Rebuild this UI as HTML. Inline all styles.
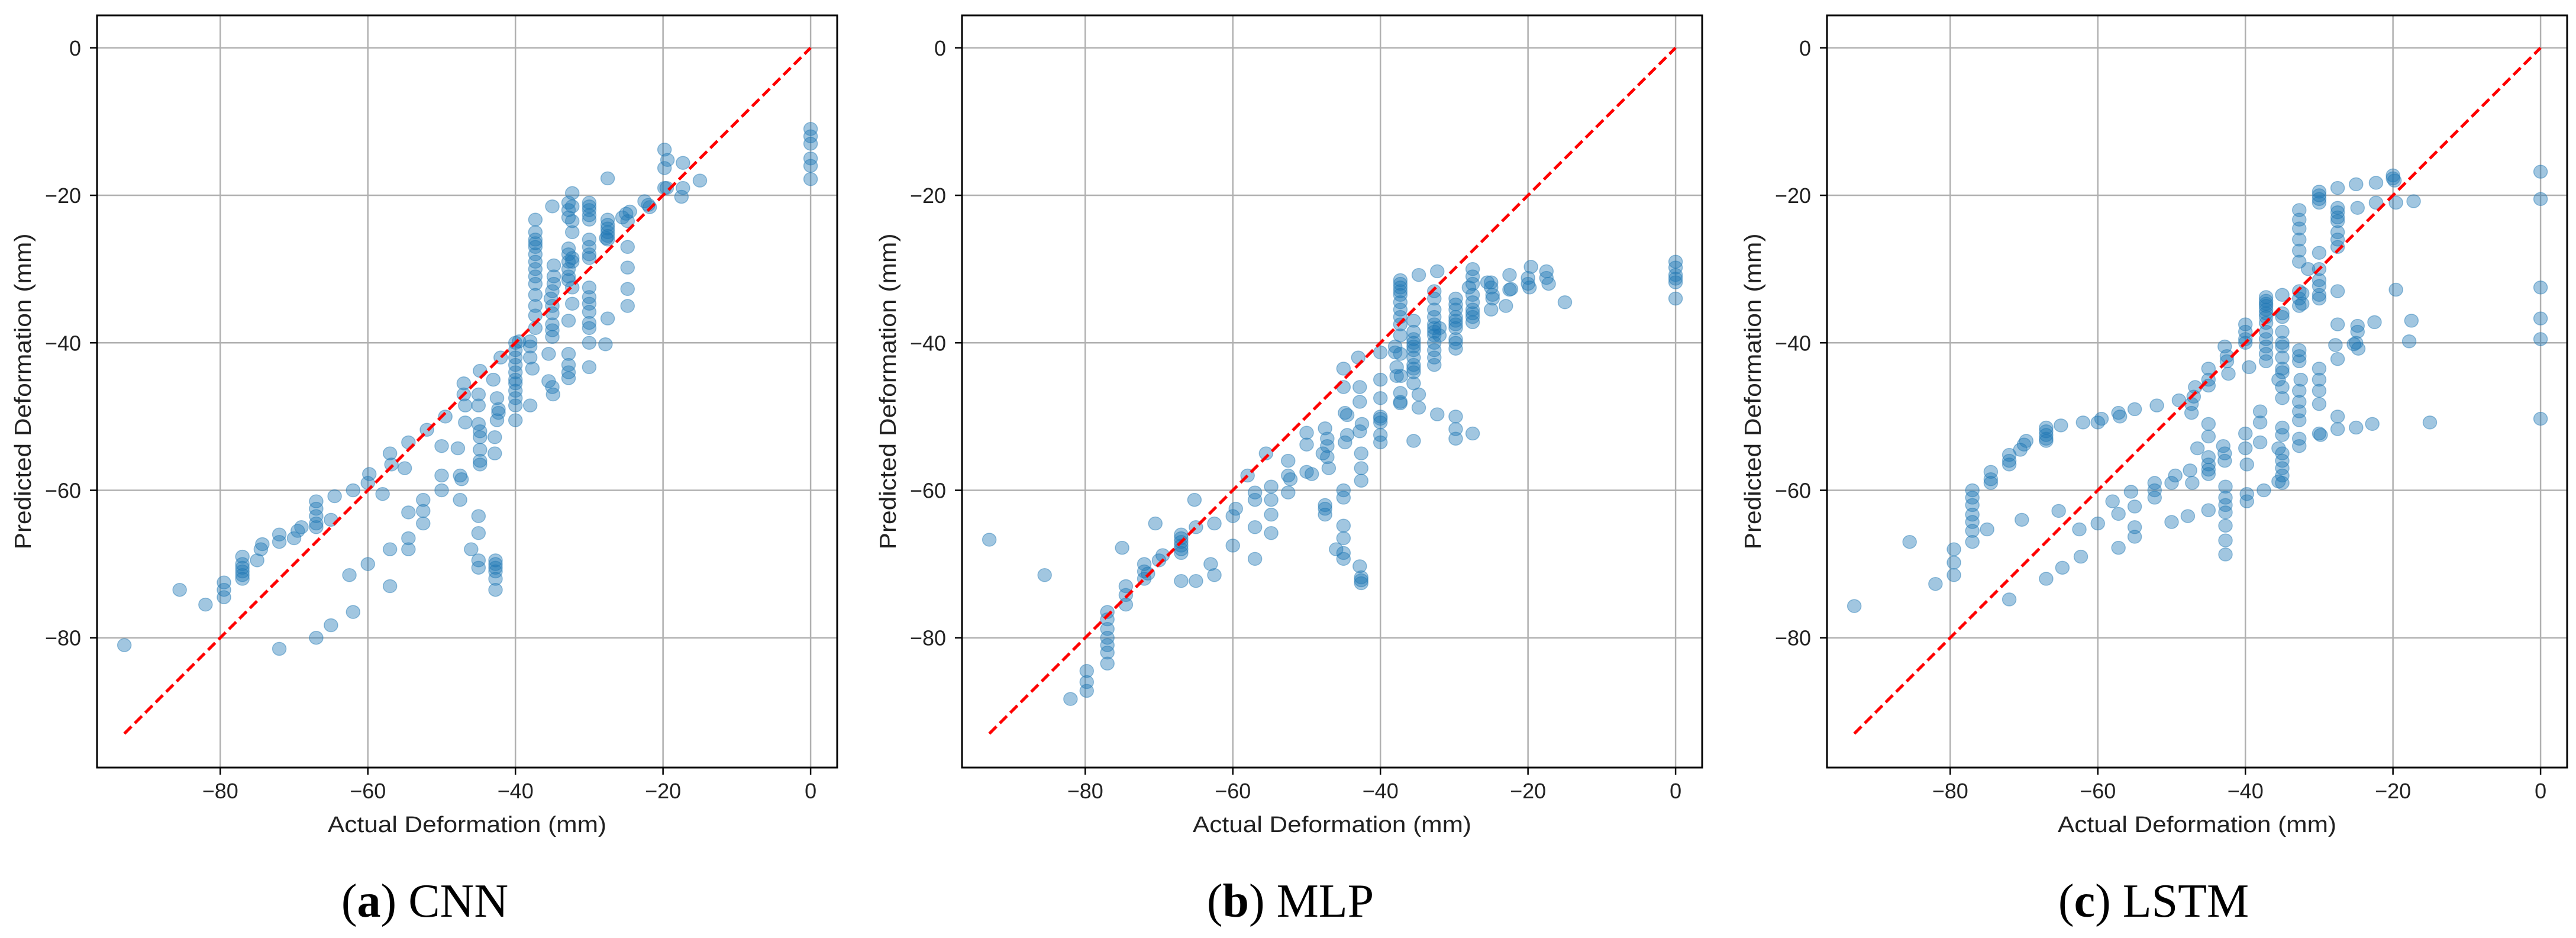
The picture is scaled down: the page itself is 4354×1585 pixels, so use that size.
<!DOCTYPE html>
<html><head><meta charset="utf-8">
<style>
html,body{margin:0;padding:0;background:#fff;}
svg{display:block;}
text{font-family:"Liberation Sans","DejaVu Sans",sans-serif;fill:#222;}
.cap{font-family:"Liberation Serif",serif;fill:#000;}
</style></head>
<body>
<svg id="fig" width="4354" height="1585" viewBox="0 0 4354 1585" xmlns="http://www.w3.org/2000/svg"></svg>
<script>
const xTicks=[-80,-60,-40,-20,0];
const yTicks=[0,-20,-40,-60,-80];
const panelNames=["CNN","MLP","LSTM"];
const panelLetters=["a","b","c"];
const cnnPts=[[-93,-81],[-85.5,-73.5],[-82,-75.5],[-79.5,-72.5],[-79.5,-73.5],[-79.5,-74.5],
[-77,-69],[-77,-70],[-77,-71],[-77,-72],[-77,-71.5],[-77,-70.5],[-75,-69.5],[-74.5,-68],[-74.3,-67.3],
[-72,-66],[-72,-67],[-70,-66.5],[-69.5,-65.5],[-69,-65],[-67,-61.5],[-67,-62.5],[-67,-63.5],[-67,-64.5],[-67,-65],
[-65,-64],[-64.5,-60.8],[-62,-60],[-60,-59],[-59.8,-57.8],[-58,-60.5],[-57,-55],[-56.8,-56.5],[-55,-57],[-54.5,-53.5],[-52,-51.8],[-49.5,-50],
[-50,-54],[-47.8,-54.3],[-50,-58],[-50,-60],[-47.5,-58],[-47.3,-58.5],[-47.5,-61.3],
[-52.5,-61.3],[-52.5,-62.8],[-52.5,-64.5],[-54.5,-63],[-54.5,-66.5],[-54.5,-68],[-57,-68],[-57,-73],[-60,-70],[-62.5,-71.5],[-62,-76.5],[-65,-78.3],[-67,-80],[-72,-81.5],
[-47,-45.5],[-47,-47],[-46.8,-48.5],[-46.8,-50.8],[-44.8,-43.8],[-45,-47],[-45,-48.5],[-45,-51],[-44.8,-52],[-44.8,-52.8],[-44.8,-54.5],[-44.8,-56.5],[-44.8,-56],
[-45,-63.5],[-45,-65.8],[-46,-68],[-45,-69.5],[-45,-70.5],
[-42.7,-69.5],[-42.7,-70],[-42.7,-70.5],[-42.7,-71],[-42.7,-72],[-42.7,-73.5],
[-43,-45],[-42.5,-47.5],[-42.3,-49],[-42.3,-49.5],[-42.5,-50.5],[-42.8,-52.8],[-42.8,-55],[-42,-42],
[-40,-40],[-40,-41],[-40,-42],[-40,-43],[-40,-44],[-40,-45],[-40,-45.5],[-40,-46.5],[-40,-47.5],[-40,-48.5],[-40,-50.5],
[-39.5,-39.8],[-38,-39.8],[-38,-40.5],[-38,-42],[-38,-48.5],[-37.7,-43.5],
[-37.3,-23.3],[-37.3,-25],[-37.3,-26],[-37.3,-26.5],[-37.3,-27],[-37.3,-28],[-37.3,-29],[-37.3,-30],[-37.3,-31],[-37.3,-32],[-37.3,-33.5],[-37.3,-35],[-37.3,-36.3],[-37.3,-38],
[-35,-21.5],[-34.8,-29.5],[-34.8,-31],[-34.8,-32],[-35,-33],[-35.2,-34],[-35,-35],[-35,-36],[-35,-37.5],[-35,-38.3],[-35,-39.2],[-35.5,-41.5],[-35.5,-45.2],[-35,-46],[-34.9,-47],
[-32.8,-21],[-32.8,-22],[-32.8,-23],[-32.8,-27.2],[-32.8,-28],[-32.8,-29],[-32.8,-30],[-32.8,-31],[-32.8,-31.5],[-32.8,-37],[-32.8,-41.5],[-32.8,-43],[-32.8,-44],[-32.8,-44.8],
[-32.3,-19.7],[-32.3,-25],[-32.3,-28.5],[-32.3,-32.5],[-32.3,-34.7],[-32.3,-29],[-32.3,-23.5],[-32.3,-21.5],
[-30,-21],[-30,-21.5],[-30,-22],[-30,-22.7],[-30,-23.3],[-30,-26],[-30,-27],[-30,-28],[-30,-28.5],[-30,-32.5],[-30,-33.8],[-30,-34.7],[-30,-35.8],[-30,-37.3],[-30,-38],[-30,-40],[-30,-43.3],
[-27.5,-17.7],[-27.5,-23.3],[-27.5,-24],[-27.5,-24.5],[-27.5,-25],[-27.5,-25.5],[-27.5,-26],[-27.5,-36.7],[-27.8,-40.2],[-27.7,-25.8],
[-25.5,-23],[-25,-22.5],[-24.5,-22.2],[-24.8,-23.5],[-24.8,-27],[-24.8,-29.8],[-24.8,-32.7],[-24.8,-35],
[-22.5,-20.8],[-22,-21.3],[-21.8,-21.6],[-19.8,-13.8],[-19.8,-16.3],[-19.4,-15.2],[-19.8,-19],[-19.5,-19],[-17.3,-15.6],[-17.3,-19],[-17.5,-20.2],[-15,-18],
[0,-11],[0,-12],[0,-13],[0,-15],[0,-16],[0,-17.8]];
const mlpPts=[[-93,-66.7],[-85.5,-71.5],[-82,-88.3],[-79.8,-84.5],[-79.8,-86],[-79.8,-87.2],
[-77,-76.5],[-77,-77.5],[-77,-78.8],[-77,-80],[-77,-81],[-77,-82],[-77,-83.5],
[-75,-67.8],[-74.5,-73],[-74.5,-74.2],[-74.5,-75.5],[-72,-70],[-72,-71],[-72,-72],[-71.5,-71.3],
[-70.5,-64.5],[-70,-69.5],[-69.5,-68.8],[-67,-66],[-67,-66.5],[-67,-67],[-67,-67.5],[-67,-68],[-67,-68.5],[-67,-72.3],
[-65,-72.3],[-65,-65],[-65.2,-61.3],[-62.5,-64.5],[-62.5,-71.5],[-63,-70],[-60,-67.5],[-60,-63.5],[-59.6,-62.5],
[-58,-58],[-57,-60.3],[-57,-61.3],[-57,-65],[-57,-69.3],[-55.5,-55],[-54.8,-59.5],[-54.8,-61.3],[-54.8,-63.3],[-54.8,-65.8],
[-52.5,-56],[-52.5,-58],[-52.2,-58.5],[-52.5,-60.3],[-50,-52.2],[-50,-53.8],[-50,-57.5],[-49.3,-57.8],
[-47.5,-51.6],[-47.8,-55],[-47.2,-53],[-47.2,-54],[-47.2,-55.5],[-47,-57],[-47.5,-62],[-47.5,-62.5],[-47.5,-63.3],[-46,-68],
[-45,-43.5],[-45,-46],[-44.8,-49.5],[-44.5,-49.8],[-44.5,-52.5],[-44.8,-53.5],[-45,-60],[-45,-61],[-45,-64.8],[-45,-66.5],[-45,-68.5],[-45,-69.3],
[-43,-42],[-42.8,-46],[-42.8,-48],[-42.5,-51],[-42.8,-52],[-42.6,-55],[-42.6,-57],[-42.6,-58.7],[-42.8,-70.3],[-42.6,-71.8],[-42.6,-72.2],[-42.6,-72.6],
[-40,-41.3],[-40,-45],[-40,-47.5],[-40,-50],[-40,-50.3],[-40,-50.8],[-40,-52.5],[-40,-53.5],
[-38,-40.5],[-38,-41.3],[-37.8,-43.3],[-37.8,-44.5],[-37.2,-44.5],
[-37.3,-31.5],[-37.3,-32],[-37.3,-32.5],[-37.3,-33],[-37.3,-33.5],[-37.3,-34.5],[-37.3,-35.5],[-37.3,-36.5],[-37.3,-37.5],[-37.3,-39],[-37.3,-41.5],[-37.3,-46.8],[-37.3,-48],[-37.3,-48.2],
[-34.8,-30.8],[-35.5,-37],[-35.5,-38.5],[-35.5,-39.5],[-35.5,-40],[-35.5,-40.5],[-35.5,-41],[-35.5,-42],[-35.5,-43],[-35.5,-43.5],[-35.5,-44],[-35.5,-45.5],
[-34.8,-47],[-34.8,-48.8],[-35.5,-53.3],
[-32.7,-33],[-32.7,-34],[-32.7,-35.5],[-32.7,-36.5],[-32.7,-37.5],[-32.7,-38],[-32.7,-38.5],[-32.7,-39],[-32.7,-40],[-32.7,-41],[-32.7,-42],[-32.7,-43],
[-32.3,-30.3],[-32,-38],[-32,-39],[-32.3,-49.7],
[-29.8,-34],[-29.8,-34.8],[-29.8,-35.5],[-29.8,-36.5],[-29.8,-37],[-29.8,-37.5],[-29.8,-38],[-29.8,-39.5],[-29.8,-40],[-29.8,-40.8],[-29.8,-50],[-29.8,-51.7],[-29.8,-53],
[-27.5,-30],[-27.5,-31],[-27.5,-32],[-27.5,-33.5],[-27.5,-34.5],[-27.5,-35.5],[-27.5,-36],[-27.5,-36.5],[-27.5,-37.2],[-27.5,-52.3],[-28,-32.5],
[-25,-31.8],[-25,-32.5],[-24.8,-33.5],[-24.8,-34],[-25,-35.5],[-25.5,-31.8],
[-22.5,-30.8],[-22.3,-32.7],[-22.5,-32.8],[-23,-35],
[-20,-31.2],[-20,-32],[-19.8,-32.5],[-19.6,-29.7],
[-17.5,-30.3],[-17.5,-31.2],[-17.2,-32],[-15,-34.5],
[0,-29],[0,-29.8],[0,-30.8],[0,-31.3],[0,-31.8],[0,-34]];
const lstmPts=[[-93,-75.7],[-85.5,-67],[-82,-72.7],[-79.5,-68],[-79.5,-69.8],[-79.5,-71.5],
[-77,-60],[-77,-61],[-77,-62],[-77,-63.3],[-77,-64.3],[-77,-65.5],[-77,-67],
[-75,-65.3],[-74.5,-57.5],[-74.5,-58.5],[-74.5,-59],[-72,-55.2],[-72,-56],[-72,-56.5],[-72,-74.8],
[-70.5,-54.5],[-70,-53.8],[-69.7,-53.3],[-70.3,-64],
[-67,-51.5],[-67,-52],[-67,-52.5],[-67,-53],[-67,-53.3],[-67,-72],
[-65,-51.2],[-65.3,-62.8],[-64.8,-70.5],[-62.5,-65.3],[-62.3,-69],[-62,-50.8],
[-60,-50.8],[-59.5,-50.3],[-60,-64.5],[-58,-61.5],[-57.2,-49.5],[-57,-50],[-57.2,-63.2],[-57.2,-67.8],
[-55,-49],[-55.5,-60.2],[-55,-62.2],[-55,-65],[-55,-66.3],
[-52,-48.5],[-52.3,-59],[-52.3,-60],[-52.3,-61],
[-49.5,-58],[-50,-59],[-50,-64.3],[-49,-47.8],
[-47.8,-63.5],[-47.5,-57.3],[-47.2,-59],[-47.3,-49.5],[-47.3,-48.3],[-47,-47.3],[-46.8,-46],[-46.5,-54.3],
[-45,-43.5],[-45,-45],[-45,-45.8],[-45,-51],[-45,-52.7],[-45,-55.5],[-45,-56.5],[-45,-57.2],[-45,-57.8],[-45,-62.7],
[-42.8,-40.5],[-42.5,-41.8],[-42.5,-42.5],[-42.3,-44.2],[-43,-54],[-42.8,-55],[-42.8,-56],
[-42.7,-59.5],[-42.7,-61],[-42.7,-62],[-42.7,-63],[-42.7,-64.8],[-42.7,-66.8],[-42.7,-68.7],
[-40,-37.5],[-40,-38.5],[-40,-39.5],[-40,-40],[-39.5,-43.3],[-40,-52.3],[-40,-54.3],[-39.8,-56.5],[-39.8,-60.5],[-39.8,-61.5],
[-38,-49.3],[-38,-50.8],[-38,-53.5],[-37.5,-60],
[-37.2,-33.8],[-37.2,-34.3],[-37.2,-34.7],[-37.2,-35],[-37.2,-35.5],[-37.2,-36],[-37.2,-36.5],[-37.2,-37.3],[-37.2,-38.5],[-37.2,-39.5],[-37.2,-40.5],[-37.2,-41.5],[-37.2,-42.5],
[-35,-33.5],[-35,-36],[-35,-36.5],[-35,-38.5],[-35,-40],[-35,-40.5],[-35,-42],[-35,-44],[-35,-46],[-35,-47.5],[-35,-51.5],[-35,-52.5],[-35,-55],[-35,-56],[-35,-57],[-35,-58],[-35,-59],[-35,-43.5],
[-35.5,-54.3],[-35.5,-58.8],[-35.5,-45],
[-32.7,-22],[-32.7,-23.3],[-32.7,-24.5],[-32.7,-26],[-32.7,-27.5],[-32.7,-29],[-32.7,-33],[-32.7,-34],[-32.7,-35],[-32.7,-41],[-32.7,-41.8],[-32.7,-42.5],[-32.7,-46.5],[-32.7,-48],[-32.7,-49.3],[-32.7,-50.5],[-32.7,-53],[-32.7,-54],
[-32.3,-33.3],[-32.3,-34.7],[-32.5,-45],[-31.5,-30],
[-30,-19.5],[-30,-20],[-30,-20.5],[-30,-21],[-30,-27.8],[-30,-30],[-30,-31.5],[-30,-32.3],[-30,-33.5],[-30,-34],[-30,-43.5],[-30,-45],[-30,-46.5],[-30,-48.3],[-30,-52.3],[-29.8,-52.5],
[-27.5,-19],[-27.5,-21.7],[-27.5,-22.3],[-27.5,-23],[-27.5,-23.5],[-27.5,-25],[-27.5,-26],[-27.5,-27],[-27.5,-33],[-27.5,-37.5],[-27.5,-42.2],[-27.5,-50],[-27.5,-51.7],[-27.8,-40.3],
[-25,-18.5],[-24.8,-21.7],[-24.8,-37.7],[-24.8,-38.5],[-25,-40],[-24.7,-40.8],[-25.3,-40.2],[-25,-51.5],
[-22.3,-18.3],[-22.3,-21],[-22.5,-37.2],[-22.8,-51],
[-20,-17.3],[-20,-17.7],[-19.8,-18],[-19.6,-21],[-19.6,-32.8],
[-17.5,-37],[-17.8,-39.8],[-17.2,-20.8],[-15,-50.8],
[0,-16.8],[0,-20.5],[0,-32.5],[0,-36.7],[0,-39.5],[0,-50.3]];
const allPts=[cnnPts,mlpPts,lstmPts];

const NS="http://www.w3.org/2000/svg";
const fig=document.getElementById('fig');
const axLeft=[164,1626,3088], axW=1251, axTop=26, axBot=1297;
const capX=[718,2181,3640];
const X0=-96.7,X1=3.6,Y0=-97.6,Y1=4.4;
function mk(tag,attrs,parent){const e=document.createElementNS(NS,tag);for(const k in attrs)e.setAttribute(k,attrs[k]);(parent||fig).appendChild(e);return e;}

for(let p=0;p<3;p++){
  const L=axLeft[p];
  const sx=v=>L+(v-X0)/(X1-X0)*axW;
  const sy=v=>axBot-(v-Y0)/(Y1-Y0)*(axBot-axTop);
  const g=mk('g',{});
  
  
  xTicks.forEach(t=>{
    const l=mk('line',{x1:sx(t),x2:sx(t),y1:axTop,y2:axBot,stroke:'#b0b0b0','stroke-width':2.5},g);
    
    
    mk('line',{x1:sx(t),x2:sx(t),y1:axBot,y2:axBot+12,stroke:'#000','stroke-width':2.5},g);
    const tx=mk('text',{x:sx(t),y:1349,'font-size':36,'text-anchor':'middle'},g);
    tx.textContent=(t<0?'\u2212'+(-t):t);
    
    
  });
  yTicks.forEach(t=>{
    const l=mk('line',{x1:L,x2:L+axW,y1:sy(t),y2:sy(t),stroke:'#b0b0b0','stroke-width':2.5},g);
    
    
    mk('line',{x1:L-12,x2:L,y1:sy(t),y2:sy(t),stroke:'#000','stroke-width':2.5},g);
    const tx=mk('text',{x:L-27,y:sy(t)+13,'font-size':36,'text-anchor':'end'},g);
    tx.textContent=(t<0?'\u2212'+(-t):t);
    
    
  });
  allPts[p].forEach(d=>{
    const c=mk('ellipse',{cx:sx(d[0]),cy:sy(d[1]),rx:11.5,ry:11,fill:'#1f77b4','fill-opacity':0.42,stroke:'#1f77b4','stroke-opacity':0.45,'stroke-width':1.5},g);
    
    
  });
  const dl=mk('line',{x1:sx(-93),y1:sy(-93),x2:sx(0),y2:sy(0),stroke:'#ff0000','stroke-width':5,'stroke-dasharray':'17 8'},g);
  
  
  const fr=mk('rect',{x:L,y:axTop,width:axW,height:axBot-axTop,fill:'none',stroke:'#000','stroke-width':3},g);
  
  
  const xl=mk('text',{x:L+axW/2,y:1406,'font-size':38,'text-anchor':'middle',textLength:471,lengthAdjust:'spacingAndGlyphs'},g);
  xl.textContent='Actual Deformation (mm)';
  
  
  const yx=L-112, yc=(axTop+axBot)/2;
  const yl=mk('text',{x:yx,y:yc,'font-size':39,'text-anchor':'middle',textLength:534,lengthAdjust:'spacingAndGlyphs',transform:'rotate(-90 '+yx+' '+yc+')'},g);
  yl.textContent='Predicted Deformation (mm)';
  
  
  const cp=mk('text',{x:capX[p],y:1549,'font-size':80,'text-anchor':'middle','class':'cap'},g);
  cp.innerHTML='(<tspan font-weight="bold">'+panelLetters[p]+'</tspan>) '+panelNames[p];
  
  
}
</script>
</body></html>
